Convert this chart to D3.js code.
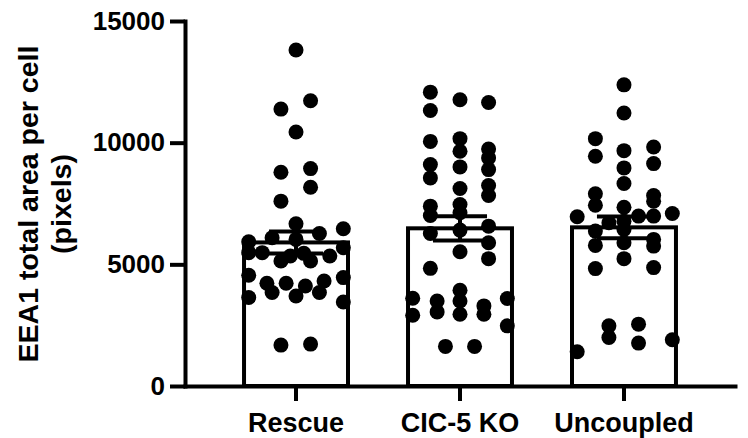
<!DOCTYPE html>
<html>
<head>
<meta charset="utf-8">
<script src="https://cdn.jsdelivr.net/npm/d3@7"></script>
<style>
  body { margin: 0; background: #fff; }
  text { font-family: "Liberation Sans", Arial, sans-serif; font-weight: bold; fill: #000; }
</style>
</head>
<body>
<svg id="chart" width="748" height="438"></svg>
<script>
// groups, bar heights (mean) and error (SEM)
const groups = ['Rescue', 'CIC-5 KO', 'Uncoupled'];
const means = [5900, 6480, 6520];
const sems = [450, 500, 450];
const yTicks = [0, 5000, 10000, 15000];

// individual cells; jitter is a fraction of half the bar width
const rescueVals = [13811, 11721, 11380, 10438, 8783, 8934, 8169, 7596, 6668, 6463, 6094, 6025, 6270,
  5930, 5684, 5479, 5479, 5137, 5342, 5451, 5137, 5342, 4549, 4455, 4221, 4221, 4111, 4316,
  3840, 3701, 3840, 3635, 3455, 1680, 1721];
const rescueJit = [0, 0.28, -0.29, 0, -0.29, 0.28, 0.28, -0.29, 0, 0.91, -0.46, 0, 0.45,
  -0.91, 0.91, -0.91, -0.65, -0.29, -0.11, 0.15, 0.28, 0.65, -0.91, 0.91, -0.56, -0.19, 0.18, 0.54,
  -0.46, 0, 0.45, -0.91, 0.91, -0.29, 0.28];

const koVals = [12077, 11324, 11762, 11652, 10053, 10164, 9645, 9742, 9373, 9098, 8552, 9003, 8893,
  8115, 8238, 7828, 7459, 7390, 7008, 7117, 6406, 6270, 6570, 5889, 5234, 5520, 4836,
  3607, 2910, 3496, 3045, 3934, 3496, 2951, 3291, 2951, 3594, 2471, 1627, 1627];
const koJit = [-0.57, -0.57, 0, 0.55, -0.57, 0, 0, 0.55, 0.55, -0.57, -0.57, 0, 0.55,
  0, 0.55, 0.55, 0, -0.57, -0.57, 0, 0, -0.57, 0.55, 0.55, 0.55, 0, -0.57,
  -0.91, -0.91, -0.44, -0.44, 0, 0, 0, 0.46, 0.46, 0.91, 0.91, -0.28, 0.28];

const uncVals = [12377, 11217, 10164, 9439, 9672, 9824, 9139, 8963, 8320, 7898, 7430, 7828, 7594,
  7348, 6955, 6709, 6982, 6982, 7090, 6775, 6365, 6434, 5779, 5889, 6025, 5750, 5234, 4824, 4865,
  2471, 1996, 2541, 1762, 1898, 1406];
const uncJit = [0, 0, -0.55, -0.55, 0, 0.57, 0.57, 0, 0, -0.55, -0.55, 0.57, 0.57,
  0, -0.9, -0.29, 0.28, 0.57, 0.93, 0, -0.55, 0, -0.55, 0, 0.57, 0.57, 0, -0.55, 0.57,
  -0.29, -0.29, 0.28, 0.28, 0.93, -0.9];

const points = [
  rescueVals.map((v, i) => ({ g: groups[0], v: v, j: rescueJit[i] })),
  koVals.map((v, i) => ({ g: groups[1], v: v, j: koJit[i] })),
  uncVals.map((v, i) => ({ g: groups[2], v: v, j: uncJit[i] }))
].flat();

const svg = d3.select('#chart');

const xScale = d3.scaleBand()
  .domain(groups)
  .range([185, 735])
  .paddingInner(0.366)
  .paddingOuter(0.36);

const yScale = d3.scaleLinear()
  .domain([0, 15000])
  .range([386, 21]);

const bw = xScale.bandwidth();

// bars
svg.append('g')
  .selectAll('rect')
  .data(groups)
  .join('rect')
  .attr('x', d => xScale(d))
  .attr('y', (d, i) => yScale(means[i]))
  .attr('width', bw)
  .attr('height', (d, i) => yScale(0) - yScale(means[i]))
  .attr('fill', '#fff')
  .attr('stroke', '#000')
  .attr('stroke-width', 4);

// dots
svg.append('g')
  .selectAll('circle')
  .data(points)
  .join('circle')
  .attr('cx', d => xScale(d.g) + bw / 2 + d.j * bw / 2)
  .attr('cy', d => yScale(d.v))
  .attr('r', 7.5)
  .attr('fill', '#000');

// error bars (mean +/- SEM)
const err = svg.append('g')
  .attr('stroke', '#000')
  .attr('stroke-width', 4);

groups.forEach((g, i) => {
  const cx = xScale(g) + bw / 2;
  const cap = bw * 0.26;
  err.append('line')
    .attr('x1', cx).attr('x2', cx)
    .attr('y1', yScale(means[i] - sems[i])).attr('y2', yScale(means[i] + sems[i]));
  [means[i] - sems[i], means[i] + sems[i]].forEach(v => {
    err.append('line')
      .attr('x1', cx - cap).attr('x2', cx + cap)
      .attr('y1', yScale(v)).attr('y2', yScale(v));
  });
});

// axes
const yAxis = svg.append('g')
  .attr('transform', 'translate(185,0)')
  .call(d3.axisLeft(yScale).tickValues(yTicks).tickFormat(d3.format('d')).tickSize(15).tickSizeOuter(0).tickPadding(5));

const xAxis = svg.append('g')
  .attr('transform', 'translate(0,386)')
  .call(d3.axisBottom(xScale).tickSize(15).tickSizeOuter(0).tickPadding(12));

[yAxis, xAxis].forEach(a => {
  a.select('.domain').attr('stroke-width', 4).attr('stroke-linecap', 'square');
  a.selectAll('.tick line').attr('stroke-width', 4);
  a.selectAll('text').attr('font-size', 26).attr('font-family', null);
});
xAxis.selectAll('text').attr('font-size', 27);

// y title, two lines
const title = svg.append('text')
  .attr('transform', 'translate(38,204) rotate(-90)')
  .attr('text-anchor', 'middle')
  .attr('font-size', 28.5);
title.append('tspan').attr('x', 0).attr('dy', 0).text('EEA1 total area per cell');
title.append('tspan').attr('x', 0).attr('dy', 33).text('(pixels)');
</script>
</body>
</html>
